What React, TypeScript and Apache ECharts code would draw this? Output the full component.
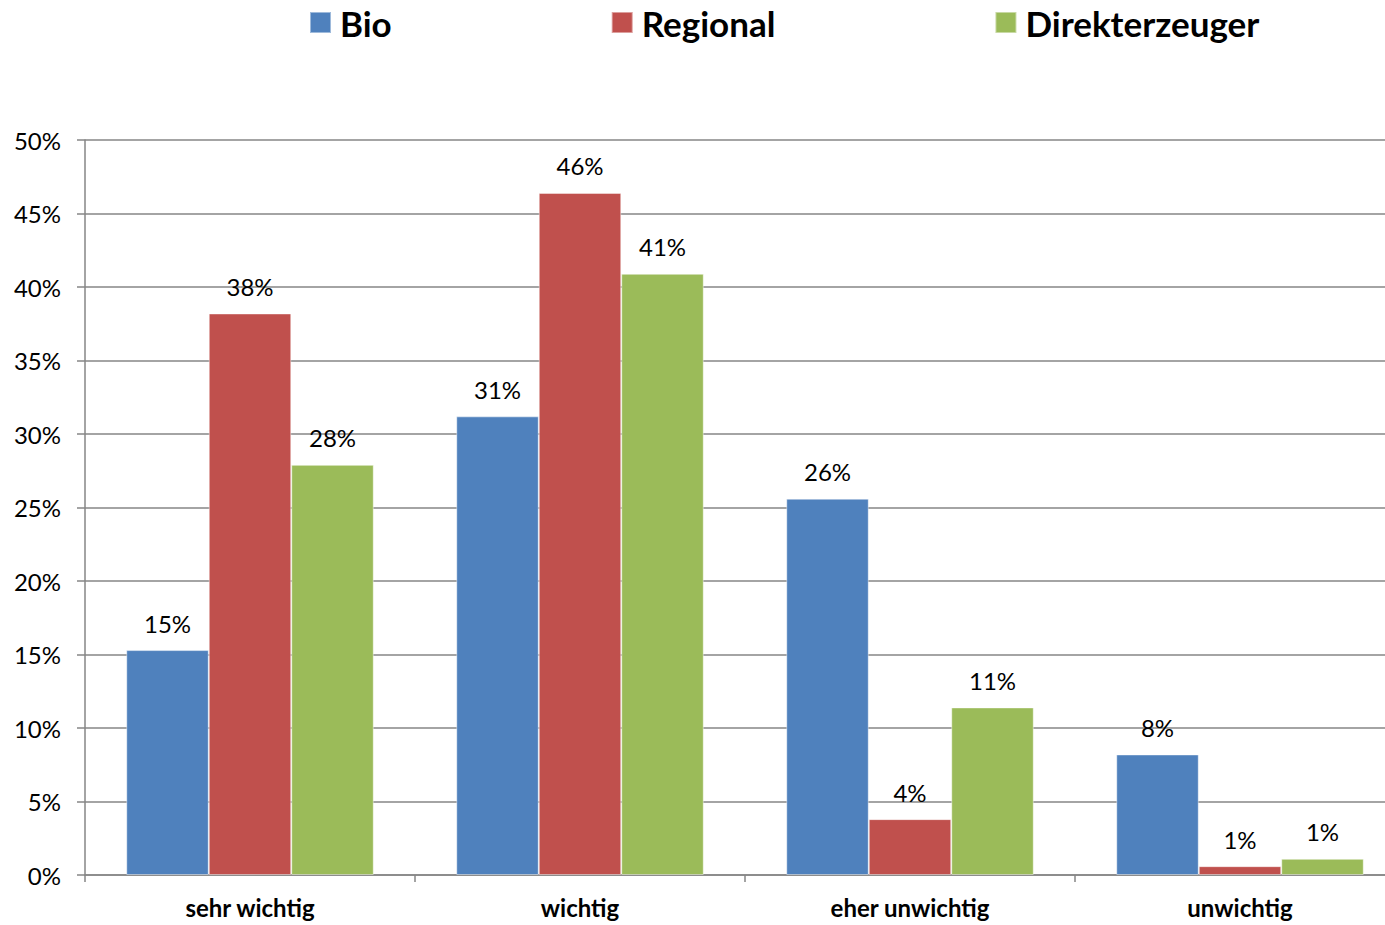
import React, { useEffect, useRef } from "react";
import * as echarts from "echarts";

const categories = ["sehr wichtig", "wichtig", "eher unwichtig", "unwichtig"];
const seriesNames = ["Bio", "Regional", "Direkterzeuger"];
const bio = [15.3, 31.2, 25.6, 8.2];
const regional = [38.2, 46.4, 3.8, 0.6];
const direkt = [27.9, 40.9, 11.4, 1.1];
const colors = ["#4F81BD", "#C0504D", "#9BBB59"];

const FONT = "Lato, 'Open Sans', sans-serif";

export default function App() {
  const ref = useRef<HTMLDivElement>(null);
  useEffect(() => {
    if (!ref.current) return;
    const chart = echarts.init(ref.current, null, { renderer: "svg" });
    const values = [bio, regional, direkt];
    chart.setOption({
      animation: false,
      textStyle: { fontFamily: FONT },
      legend: {
        left: 304,
        top: 0,
        itemWidth: 21,
        itemHeight: 21,
        itemGap: 219,
        icon: "rect",
        textStyle: { fontSize: 35, fontWeight: "bold", color: "#000", fontFamily: FONT, padding: [0, 0, 0, 4] },
        data: seriesNames,
      },
      grid: { left: 85, right: 0, top: 140, bottom: 50, containLabel: false },
      xAxis: {
        type: "category",
        data: categories,
        axisLine: { lineStyle: { color: "#868686", width: 1.5 } },
        axisTick: { show: true, length: 7, alignWithLabel: false, lineStyle: { color: "#868686", width: 1.5 } },
        axisLabel: { fontSize: 24, fontWeight: "bold", color: "#000", margin: 20, fontFamily: FONT },
      },
      yAxis: {
        type: "value",
        min: 0,
        max: 50,
        interval: 5,
        axisLine: { show: true, lineStyle: { color: "#868686", width: 1.5 } },
        axisTick: { show: true, length: 8, lineStyle: { color: "#868686", width: 1.5 } },
        axisLabel: { formatter: "{value}%", fontSize: 24, color: "#000", margin: 24, fontFamily: FONT },
        splitLine: { show: true, lineStyle: { color: "#868686", width: 1.5 } },
      },
      series: seriesNames.map((name, i) => ({
        name,
        type: "bar",
        data: values[i],
        barGap: "0%",
        barCategoryGap: "25%",
        itemStyle: { color: colors[i], borderColor: "rgba(255,255,255,0.45)", borderWidth: 1 },
        label: {
          show: true,
          position: "top",
          distance: 15,
          fontSize: 24,
          color: "#000",
          fontFamily: FONT,
          formatter: (p: any) => Math.round(p.value) + "%",
        },
      })),
    });
    return () => chart.dispose();
  }, []);
  return (
    <div style={{ position: "fixed", left: 0, top: 0, width: 1385, height: 925, overflow: "hidden", background: "#fff" }}>
      <div ref={ref} style={{ position: "absolute", left: 0, top: 0, width: 1405, height: 925 }} />
    </div>
  );
}
